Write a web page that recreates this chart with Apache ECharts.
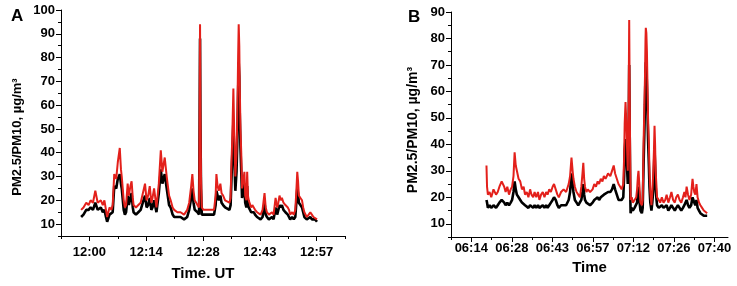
<!DOCTYPE html>
<html>
<head>
<meta charset="utf-8">
<script src="https://cdn.jsdelivr.net/npm/echarts@6/dist/echarts.min.js"></script>
<style>
  html, body { margin: 0; padding: 0; background: #fff; }
  #chart { width: 737px; height: 286px; }
</style>
</head>
<body>
<div id="chart"></div>
<script>
// panel A: time in minutes after midnight (UT)
const timeA = [
  717.9, 718.5, 719.2, 719.8, 720.3, 720.9, 721.5, 722.1, 722.9, 723.4,
  723.8, 724.2, 724.5, 725.1, 725.6, 725.9, 726.3, 726.8, 727.2, 727.7,
  728.0, 728.2, 728.7, 729.0, 729.3, 729.7, 730.0, 730.4, 730.7, 731.0,
  731.2, 731.8, 732.4, 733.0, 733.7, 734.1, 734.5, 734.9, 735.3, 735.7,
  736.0, 736.4, 737.0, 737.6, 738.1, 738.5, 738.8, 739.1, 739.6, 740.2,
  740.6, 741.1, 741.5, 742.3, 743.1, 744.0, 744.8, 745.3, 745.8, 746.1,
  746.4, 746.7, 747.4, 747.8, 747.95, 748.05, 748.15, 748.3, 748.5, 748.9,
  749.5, 750.5, 751.6, 752.0, 752.2, 752.5, 752.8, 753.2, 753.5, 753.9,
  754.4, 754.9, 755.5, 755.8, 756.0, 756.2, 756.5, 756.7, 757.0, 757.3,
  757.5, 757.7, 757.85, 758.0, 758.1, 758.3, 758.5, 758.7, 759.0, 759.3,
  759.5, 759.8, 760.0, 760.2, 760.4, 761.0, 761.3, 761.7, 762.0, 762.5,
  763.0, 763.4, 763.9, 764.4, 764.7, 765.0, 765.5, 765.9, 766.3, 766.7,
  767.2, 767.6, 767.9, 768.2, 768.5, 768.8, 769.2, 769.7, 770.3, 770.6,
  770.9, 771.4, 771.8, 772.2, 772.5, 772.7, 772.9, 773.1, 773.5, 773.9,
  774.2, 774.5, 775.1, 775.6, 776.0, 776.4, 776.8, 777.2, 777.7
];
const pm10A = [
  16, 17, 19, 18, 20, 19, 24, 19, 20, 18,
  20, 16, 13, 17, 16, 18, 31, 29, 36, 42,
  33, 30, 20, 17, 18, 27, 22, 26, 28, 21,
  18, 17, 18, 19, 24, 27, 20, 22, 26, 19,
  21, 25, 17, 27, 41, 32, 35, 38, 30, 22,
  20, 17, 16, 15, 15, 14, 16, 19, 26, 31,
  24, 20, 18, 17, 60, 94, 58, 30, 17, 16,
  16, 16, 16, 22, 31, 26, 24, 27, 23, 22,
  20, 20, 19, 21, 35, 45, 67, 50, 30, 40,
  55, 80, 94, 85, 70, 50, 40, 25, 28, 32,
  22, 20, 32, 22, 20, 17, 18, 18, 16, 15,
  15, 14, 16, 23, 17, 15, 14, 14, 15, 14,
  21, 17, 19, 22, 20, 21, 19, 18, 17, 16,
  14, 15, 14, 16, 25, 32, 28, 22, 21, 20,
  17, 15, 13, 14, 15, 14, 13, 13, 12
];
const pm25A = [
  13, 14, 16, 16, 17, 16, 19, 16, 17, 15,
  16, 13, 11, 14, 14, 15, 26, 25, 29, 31,
  27, 25, 16, 14, 15, 22, 18, 21, 23, 17,
  15, 14, 15, 16, 20, 22, 17, 18, 21, 16,
  17, 20, 15, 23, 33, 27, 29, 31, 25, 18,
  17, 14, 13, 13, 13, 12, 13, 16, 21, 25,
  19, 16, 15, 14, 55, 88, 52, 25, 14, 14,
  14, 14, 14, 18, 24, 22, 20, 22, 19, 18,
  17, 17, 16, 18, 28, 38, 53, 40, 24, 32,
  45, 65, 78, 72, 58, 42, 32, 21, 24, 27,
  19, 17, 26, 19, 17, 15, 15, 15, 14, 13,
  13, 12, 13, 19, 14, 13, 12, 12, 13, 12,
  17, 14, 16, 18, 17, 18, 16, 15, 14, 13,
  12, 13, 12, 13, 20, 25, 23, 19, 18, 17,
  15, 13, 12, 12, 13, 12, 12, 12, 11
];

// panel B
const timeB = [
  379.8, 380.0, 380.3, 380.9, 381.5, 382.3, 383.2, 383.8, 384.4, 385.2,
  386.1, 386.6, 387.2, 387.8, 388.4, 388.9, 389.4, 389.8, 390.2, 390.6,
  391.2, 391.8, 392.4, 393.0, 393.5, 394.1, 394.7, 395.3, 395.8, 396.4,
  396.9, 397.5, 398.1, 398.6, 399.2, 399.8, 400.4, 401.0, 401.5, 402.1,
  402.7, 403.3, 403.8, 404.4, 405.0, 405.5, 406.3, 407.2, 408.1, 409.0,
  409.5, 410.0, 410.4, 410.7, 411.2, 411.8, 412.4, 413.0, 413.5, 413.9,
  414.2, 414.5, 414.8, 415.3, 415.8, 416.6, 417.5, 418.1, 418.7, 419.3,
  419.8, 420.4, 421.0, 421.5, 422.1, 423.0, 423.8, 424.4, 425.0, 425.5,
  426.1, 426.7, 427.3, 427.8, 428.4, 428.7, 428.9, 429.2, 429.5, 429.7,
  430.0, 430.3, 430.5, 430.7, 430.9, 431.0, 431.4, 431.8, 432.4, 433.0,
  433.3, 433.6, 433.8, 434.1, 434.5, 435.0, 435.3, 435.6, 435.9, 436.1,
  436.3, 436.4, 436.6, 436.8, 437.0, 437.2, 437.5, 437.7, 438.0, 438.4,
  438.7, 439.0, 439.3, 439.5, 439.7, 439.9, 440.2, 440.4, 441.0, 441.5,
  442.1, 442.7, 443.3, 443.8, 444.4, 445.0, 445.5, 446.1, 446.7, 447.2,
  447.8, 448.4, 449.0, 449.6, 450.1, 450.5, 450.9, 451.4, 451.9, 452.5,
  453.0, 453.3, 453.6, 454.0, 454.4, 454.8, 455.3, 455.8, 456.4, 457.0,
  457.6, 458.2
];
const pm10B = [
  32, 24, 21, 22, 20, 23, 21, 22, 24, 26,
  24, 22, 24, 21, 23, 24, 28, 37, 32, 30,
  27, 26, 23, 24, 21, 22, 20, 23, 21, 20,
  22, 20, 22, 19, 21, 22, 20, 22, 21, 23,
  22, 24, 25, 23, 21, 20, 22, 23, 22, 25,
  28, 35, 30, 27, 24, 22, 21, 20, 24, 29,
  33, 27, 24, 22, 23, 22, 23, 25, 24, 26,
  25, 27, 26, 28, 27, 29, 28, 30, 32, 29,
  27, 25, 24, 23, 25, 35, 48, 56, 48, 40,
  30, 55, 87, 55, 30, 19, 20, 18, 19, 20,
  23, 28, 30, 25, 18, 17, 19, 40, 55, 65,
  80, 84, 82, 75, 62, 50, 40, 30, 22, 17,
  22, 28, 38, 47, 40, 30, 24, 20, 19, 18,
  20, 18, 19, 21, 18, 20, 22, 19, 18, 20,
  21, 19, 18, 20, 22, 20, 24, 21, 19, 21,
  27, 24, 22, 21, 25, 20, 18, 17, 16, 15,
  15, 14
];
const pm25B = [
  19, 18, 16, 17, 16, 17, 16, 17, 18, 19,
  18, 17, 18, 17, 18, 19, 22, 26, 23, 21,
  20, 19, 18, 18, 17, 17, 16, 17, 17, 16,
  17, 16, 17, 16, 16, 17, 16, 17, 16, 17,
  18, 19, 20, 19, 17, 16, 17, 17, 17, 19,
  22, 29, 25, 22, 19, 18, 17, 17, 19, 22,
  25, 21, 19, 18, 18, 17, 18, 19, 19, 20,
  19, 20, 20, 21, 21, 22, 22, 23, 25, 23,
  21, 19, 19, 19, 20, 28, 38, 42, 38, 32,
  25, 40, 70, 42, 20, 14, 16, 15, 16, 16,
  18, 22, 24, 19, 15, 14, 16, 32, 45, 55,
  68, 71, 70, 62, 52, 42, 32, 24, 18, 15,
  18, 22, 30, 38, 32, 24, 19, 17, 16, 16,
  17, 16, 16, 17, 15, 16, 17, 16, 15, 16,
  17, 16, 15, 16, 17, 17, 19, 17, 16, 17,
  20, 19, 18, 17, 19, 16, 15, 14, 14, 13,
  13, 13
];

// ticks (minutes); the originals step by 0.01 day = 14.4 min
const xTicksA = [720, 734.4, 748.8, 763.2, 777.6];
const xMinorA = [712.8, 727.2, 741.6, 756, 770.4, 784.8];
const xTicksB = [374.4, 388.8, 403.2, 417.6, 432, 446.4, 460.8];
const xMinorB = [367.2, 381.6, 396, 410.4, 424.8, 439.2, 453.6];
const yTicksA = [10, 20, 30, 40, 50, 60, 70, 80, 90, 100];
const yTicksB = [10, 20, 30, 40, 50, 60, 70, 80, 90];

const pad = (n) => (n < 10 ? "0" + n : "" + n);
const fmtTime = (v) => {
  const h = Math.floor(v / 60 + 1e-9);
  const m = Math.floor(v - h * 60 + 1e-6);
  return pad(h) + ":" + pad(m);
};

const FONT = "Liberation Sans";
const black = "#000";

function majorX(grid, min, max, ticks, name, gap, margin) {
  return {
    gridIndex: grid, type: "value", min: min, max: max, position: "bottom",
    axisLine: { lineStyle: { color: black, width: 1 } },
    axisTick: { customValues: ticks, length: 5, lineStyle: { color: black } },
    axisLabel: {
      customValues: ticks, formatter: fmtTime, margin: margin,
      color: black, fontFamily: FONT, fontWeight: "bold", fontSize: 13,
    },
    splitLine: { show: false },
    name: name, nameLocation: "middle", nameGap: gap,
    nameTextStyle: { color: black, fontFamily: FONT, fontWeight: "bold", fontSize: 15 },
  };
}
function minorX(grid, min, max, ticks) {
  return {
    gridIndex: grid, type: "value", min: min, max: max, position: "bottom",
    axisLine: { show: false },
    axisTick: { customValues: ticks, length: 3, lineStyle: { color: black } },
    axisLabel: { show: false },
    splitLine: { show: false },
  };
}
function majorY(grid, max, ticks) {
  return {
    gridIndex: grid, type: "value", min: 5, max: max, position: "left",
    axisLine: { show: true, lineStyle: { color: black, width: 1 } },
    axisTick: { show: true, customValues: ticks, length: 5, lineStyle: { color: black } },
    axisLabel: {
      customValues: ticks, margin: 6,
      color: black, fontFamily: FONT, fontWeight: "bold", fontSize: 13,
    },
    splitLine: { show: false },
  };
}
function minorY(grid, max) {
  return {
    gridIndex: grid, type: "value", min: 5, max: max, interval: 5, position: "left",
    axisLine: { show: false },
    axisTick: { show: true, length: 3, lineStyle: { color: black } },
    axisLabel: { show: false },
    splitLine: { show: false },
  };
}
// rotated y-axis title, placed by hand like in the original figure
function yTitle(x, y, size) {
  return {
    type: "text", x: x, y: y, rotation: Math.PI / 2,
    style: {
      text: "PM2.5/PM10, µg/m³", fill: black, align: "center", verticalAlign: "middle",
      font: "bold " + size + "px '" + FONT + "'",
    },
  };
}

function line(x, y, times, vals, color, width) {
  return {
    type: "line", xAxisIndex: x, yAxisIndex: y,
    data: times.map((t, i) => [t, vals[i]]),
    showSymbol: false, symbol: "none",
    lineStyle: { color: color, width: width },
    itemStyle: { color: color },
  };
}

const myChart = echarts.init(document.getElementById("chart"));
myChart.setOption({
  animation: false,
  backgroundColor: "#fff",
  title: [
    { text: "A", left: 6, top: 3, textStyle: { fontFamily: FONT, fontWeight: "bold", fontSize: 17, color: black } },
    { text: "B", left: 403, top: 4, textStyle: { fontFamily: FONT, fontWeight: "bold", fontSize: 17, color: black } },
  ],
  graphic: [yTitle(17, 137, 13), yTitle(413, 130, 14)],
  grid: [
    { left: 61, top: 10, width: 284, height: 229 },
    { left: 451, top: 12, width: 277, height: 225 },
  ],
  xAxis: [
    majorX(0, 712.8, 784.8, xTicksA, "Time. UT", 30, 10),
    minorX(0, 712.8, 784.8, xMinorA),
    majorX(1, 367.2, 465.6, xTicksB, "Time", 20, 5),
    minorX(1, 367.2, 465.6, xMinorB),
  ],
  yAxis: [
    majorY(0, 100, yTicksA),
    minorY(0, 100),
    majorY(1, 90, yTicksB),
    minorY(1, 90),
  ],
  series: [
    line(0, 0, timeA, pm25A, "#000", 2.6),
    line(0, 0, timeA, pm10A, "#e3201b", 2),
    line(2, 2, timeB, pm25B, "#000", 2.6),
    line(2, 2, timeB, pm10B, "#e3201b", 2),
  ],
});
</script>
</body>
</html>
